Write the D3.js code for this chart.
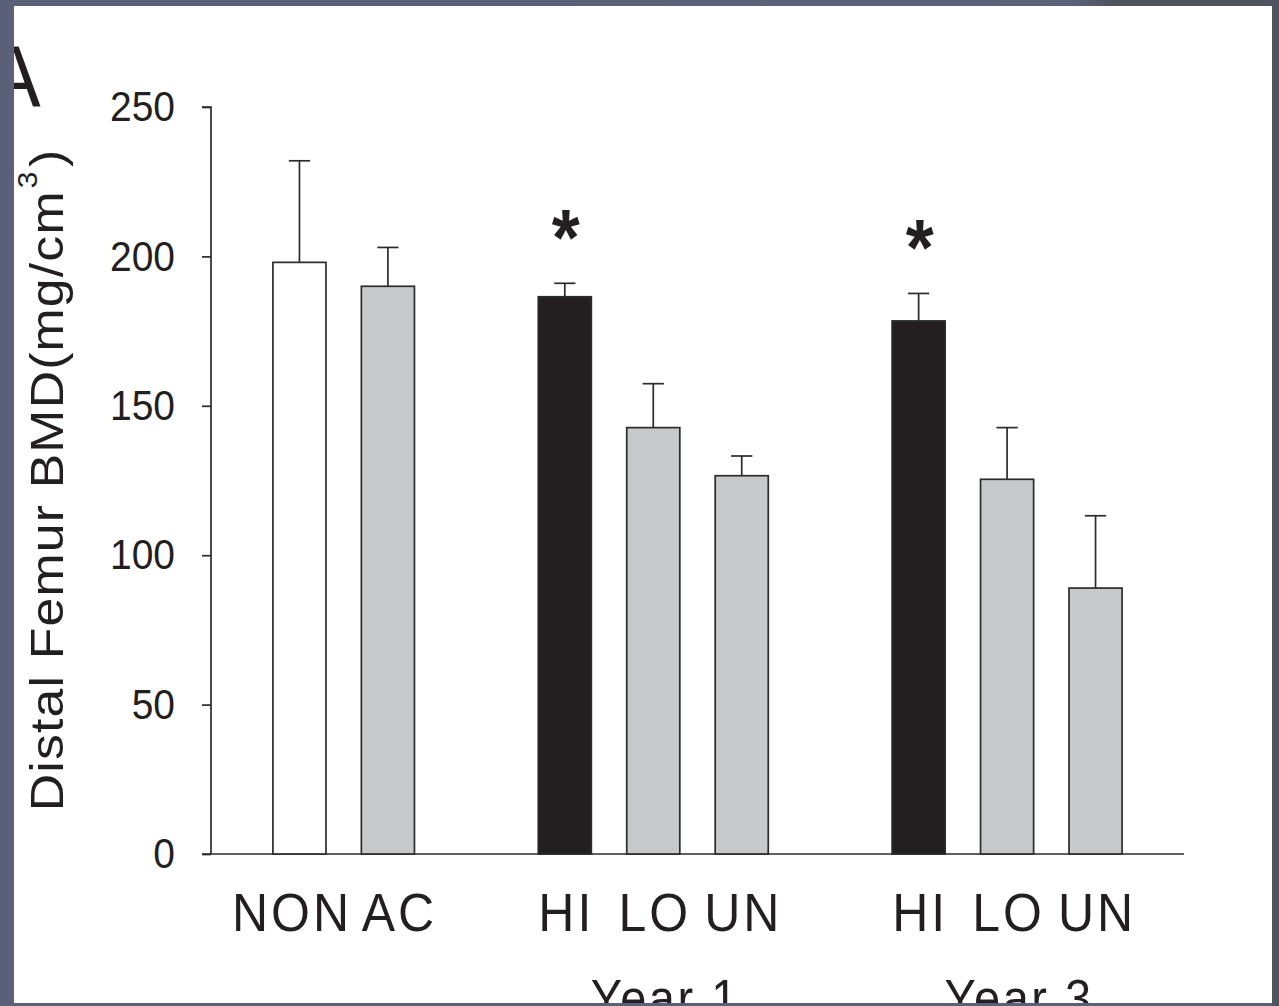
<!DOCTYPE html>
<html>
<head>
<meta charset="utf-8">
<script src="https://cdn.jsdelivr.net/npm/d3@7"></script>
<style>
  html, body { margin: 0; padding: 0; background: #5a6077; }
  svg { display: block; }
  text { font-family: "Liberation Sans", Arial, Helvetica, sans-serif; fill: #231f20; }
</style>
</head>
<body>
<svg id="chart" width="1279" height="1006"></svg>
<script>
// ---- data ----
const barIds     = ["NON", "AC", "Y1-HI", "Y1-LO", "Y1-UN", "Y3-HI", "Y3-LO", "Y3-UN"];
const barLabels  = ["NON", "AC", "HI", "LO", "UN", "HI", "LO", "UN"];
const barGroups  = ["base", "base", "Year 1", "Year 1", "Year 1", "Year 3", "Year 3", "Year 3"];
const barKinds   = ["NON", "AC", "HI", "LO", "UN", "HI", "LO", "UN"];
const meanBMD    = [198, 190, 186.5, 142.7, 126.6, 178.4, 125.4, 89.0];
const errBMD     = [34, 13, 4.5, 14.7, 6.6, 9.2, 17.3, 24.2];
const significant = [false, false, true, false, false, true, false, false];
const yTicks     = [0, 50, 100, 150, 200, 250];
const groupTitles = ["Year 1", "Year 3"];
const yTitle     = "Distal Femur BMD(mg/cm";
const panelLetter = "A";

// ---- layout / style ----
const W = 1279, H = 1006;
const S = 1.1; // vertical text stretch of the reference
const kindFill = { NON: "#ffffff", AC: "#c8c9cb", HI: "#231f20", LO: "#c8c9cb", UN: "#c8c9cb" };
const ink = "#2b2b2b";

const svg = d3.select("#chart");

// slide background + white page
svg.append("rect").attr("x", 0).attr("y", 0).attr("width", W).attr("height", H).attr("fill", "#5a6077");
svg.append("rect").attr("x", 14).attr("y", 6).attr("width", 1258).attr("height", 997).attr("fill", "#ffffff");

const bars = barIds.map((id, i) => ({
  id, label: barLabels[i], group: barGroups[i], kind: barKinds[i],
  mean: meanBMD[i], err: errBMD[i], sig: significant[i]
}));

// slot domain: insert an empty slot between groups
const slots = [];
bars.forEach((b, i) => {
  if (i > 0 && bars[i - 1].group !== b.group) slots.push("gap-" + i);
  slots.push(b.id);
});

const x = d3.scalePoint().domain(slots).range([211, 1184]).padding(1);
const y = d3.scaleLinear().domain([0, 250]).range([854, 107]);
const step = x.step();
const bw = step * 0.6;
const capW = step * 0.24;

const g = svg.append("g");

// y axis
const yAxis = d3.axisLeft(y).tickValues(yTicks).tickSize(9).tickPadding(27).tickFormat(d3.format("d"));
const ya = g.append("g").attr("transform", "translate(211,0)").call(yAxis);
ya.select(".domain").attr("stroke", ink).attr("stroke-width", 1.7).attr("d", "M-9," + y(250) + "H0V" + y(0));
ya.selectAll(".tick line").attr("stroke", ink).attr("stroke-width", 1.7);
ya.selectAll(".tick text")
  .attr("font-size", 39).attr("fill", "#231f20")
  .attr("font-family", "'Liberation Sans', Arial, sans-serif")
  .attr("transform", `scale(1,${S})`);

// x axis baseline
g.append("line")
  .attr("x1", 202).attr("x2", x.range()[1])
  .attr("y1", y(0)).attr("y2", y(0))
  .attr("stroke", ink).attr("stroke-width", 1.7);

// error bars
const eb = g.selectAll(".err").data(bars).join("g").attr("class", "err")
  .attr("stroke", ink).attr("stroke-width", 1.7);
eb.append("line")
  .attr("x1", d => x(d.id)).attr("x2", d => x(d.id))
  .attr("y1", d => y(d.mean)).attr("y2", d => y(d.mean + d.err));
eb.append("line")
  .attr("x1", d => x(d.id) - capW / 2).attr("x2", d => x(d.id) + capW / 2)
  .attr("y1", d => y(d.mean + d.err)).attr("y2", d => y(d.mean + d.err));

// bars
g.selectAll(".bar").data(bars).join("rect").attr("class", "bar")
  .attr("x", d => x(d.id) - bw / 2)
  .attr("width", bw)
  .attr("y", d => y(d.mean))
  .attr("height", d => y(0) - y(d.mean))
  .attr("fill", d => kindFill[d.kind])
  .attr("stroke", ink).attr("stroke-width", 1.7);

// significance asterisks
const astFs = 72;
g.selectAll(".ast").data(bars.filter(d => d.sig)).join("text").attr("class", "ast")
  .attr("transform", d => `translate(${x(d.id) + 1},${y(d.mean + d.err) - 60 + 0.58 * astFs}) scale(1,${S})`)
  .attr("text-anchor", "middle")
  .attr("font-size", astFs).attr("font-weight", "bold")
  .text("*");

// category labels (labels of a two-bar group are spread slightly outward, as in the reference)
const catFs = 50, catLs = 3, catS = 1.07;
function labelNudge(d) {
  const members = bars.filter(b => b.group === d.group);
  if (members.length !== 2) return 0;
  return members[0].id === d.id ? -9 : 10;
}
g.selectAll(".cat").data(bars).join("text").attr("class", "cat")
  .attr("transform", d => `translate(${x(d.id) + catLs / 2 + labelNudge(d)},930.5) scale(1,${catS})`)
  .attr("text-anchor", "middle")
  .attr("font-size", catFs).attr("letter-spacing", catLs)
  .text(d => d.label);

// group titles (Year 1 / Year 3)
const groupCenters = groupTitles.map(t => {
  const members = bars.filter(b => b.group === t);
  return { title: t, cx: d3.mean(members, b => x(b.id)) };
});
g.selectAll(".grp").data(groupCenters).join("text").attr("class", "grp")
  .attr("transform", d => `translate(${d.cx + 12},1016) scale(1,${S})`)
  .attr("text-anchor", "middle")
  .attr("font-size", 47).attr("letter-spacing", 2.5)
  .text(d => d.title);

// y axis title
const yt = g.append("text")
  .attr("transform", `translate(63,480) scale(1,${S}) rotate(-90)`)
  .attr("text-anchor", "middle")
  .attr("font-size", 47).attr("letter-spacing", 1.1);
yt.append("tspan").text(yTitle);
yt.append("tspan").attr("font-size", 27).attr("dy", -26).attr("dx", 2).text("3");
yt.append("tspan").attr("dy", 26).attr("dx", 3).text(")");

// panel letter
g.append("text")
  .attr("transform", `translate(-12,107) scale(1,${S})`)
  .attr("font-size", 79)
  .text(panelLetter);

// slide frame drawn over the page edges
const defs = svg.append("defs");
const grad = defs.append("linearGradient").attr("id", "topg").attr("x1", 0).attr("x2", 1).attr("y1", 0).attr("y2", 0);
grad.append("stop").attr("offset", "0%").attr("stop-color", "#5a6077");
grad.append("stop").attr("offset", "84%").attr("stop-color", "#5b6179");
grad.append("stop").attr("offset", "87%").attr("stop-color", "#4f525f");
grad.append("stop").attr("offset", "100%").attr("stop-color", "#4f525f");
svg.append("rect").attr("x", 0).attr("y", 0).attr("width", W).attr("height", 6).attr("fill", "url(#topg)");
svg.append("rect").attr("x", 0).attr("y", 0).attr("width", 14).attr("height", H).attr("fill", "#5a6077");
svg.append("rect").attr("x", 1272).attr("y", 0).attr("width", W - 1272).attr("height", H).attr("fill", "#4f525f");
svg.append("rect").attr("x", 0).attr("y", 1003).attr("width", 1272).attr("height", H - 1003).attr("fill", "#5a6077");
</script>
</body>
</html>
